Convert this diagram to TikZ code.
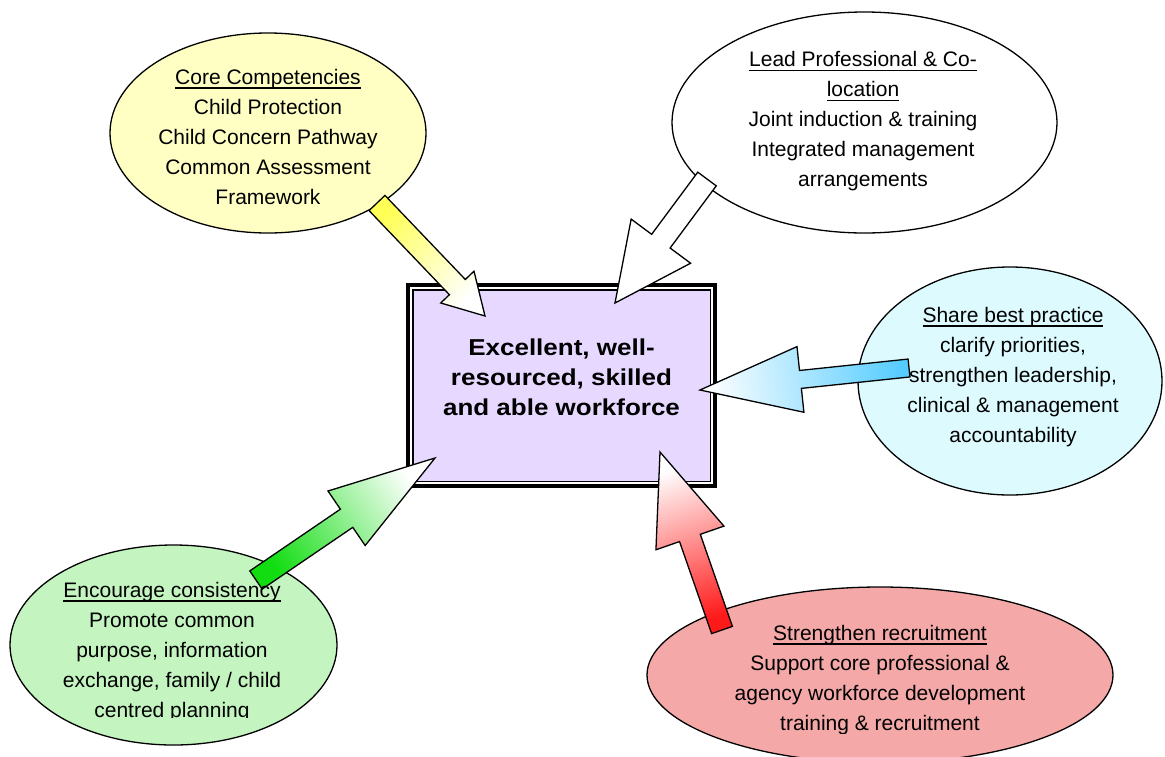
\documentclass[tikz,border=0pt]{standalone}
\usepackage{fontspec}
\setmainfont{Liberation Sans}
\newfontfamily\boxfont{Liberation Sans}[FakeStretch=1.13]
\usetikzlibrary{calc,shapes.geometric}

\definecolor{coreyellow}{HTML}{FFFFC4}
\definecolor{sharecyan}{HTML}{DDFBFF}
\definecolor{consgreen}{HTML}{C4F4C0}
\definecolor{recred}{HTML}{F4A8A8}
\definecolor{boxlilac}{HTML}{E6D8FF}
\definecolor{arryellow}{HTML}{FFFF55}
\definecolor{arrblue}{HTML}{55CCFF}
\definecolor{arrgreen}{HTML}{11DD11}
\definecolor{arrred}{HTML}{FF1A1A}

% underlined heading line with a firmer rule
\newcommand{\headline}[1]{\setbox0\hbox{#1}\rlap{\rule[-4.2pt]{\wd0}{1.4pt}}\box0}

% tail, tip, colour, shaft half width, head half width, head length
\newcommand{\blockarrow}[6]{%
  \pgfmathanglebetweenpoints{\pgfpointanchor{#1}{center}}{\pgfpointanchor{#2}{center}}%
  \let\arrbase\pgfmathresult
  \pgfmathsetmacro{\arrang}{\arrbase-90}%
  \coordinate (hb) at ($(#2)!#6!(#1)$);
  \shade[arrowline, bottom color=#3, top color=white, shading angle=\arrang]
    ($(#1)!#4!90:(#2)$) -- ($(hb)!#4!-90:(#1)$) -- ($(hb)!#5!-90:(#1)$) -- (#2)
    -- ($(hb)!#5!90:(#1)$) -- ($(hb)!#4!90:(#1)$) -- ($(#1)!#4!-90:(#2)$) -- cycle;
}

\begin{document}
\begin{tikzpicture}[x=1pt, y=-1pt,
    blob/.style={ellipse, draw=black, line width=1.3pt, inner sep=0pt},
    blobtext/.style={align=center, inner sep=0pt, font=\fontsize{21}{30}\selectfont},
    arrowline/.style={draw=black, line width=1.3pt, line join=miter}]
  \useasboundingbox (0,0) rectangle (1165,756);

  % ellipses
  \node[blob, fill=coreyellow, minimum width=316pt, minimum height=200pt] (core) at (268,133) {};
  \node[blob, fill=white, minimum width=385pt, minimum height=221pt] (lead) at (864.5,122.5) {};
  \node[blob, fill=sharecyan, minimum width=304pt, minimum height=228pt] (share) at (1010,381) {};
  \node[blob, fill=consgreen, minimum width=327pt, minimum height=200pt] (consist) at (173.5,645) {};
  \node[blob, fill=recred, minimum width=466pt, minimum height=176pt] (recruit) at (880,675) {};

  % centre box
  \node[draw=black, line width=7pt, fill=boxlilac, minimum width=304pt, minimum height=198pt] (box) at (561.5,385.5) {};
  \draw[white, line width=2.5pt] ([shift={(4.8,4.8)}]box.north west) rectangle ([shift={(-4.8,-4.8)}]box.south east);
  \draw[black, line width=0.8pt] ([shift={(7,7)}]box.north west) rectangle ([shift={(-7,-7)}]box.south east);

  % arrows
  \coordinate (coretail) at (377,203);
  \coordinate (coretip) at (485,316);
  \coordinate (leadtail) at (707,179);
  \coordinate (leadtip) at (615,303);
  \coordinate (sharetail) at (909,368);
  \coordinate (sharetip) at (700,390);
  \coordinate (consisttail) at (256,580);
  \coordinate (consisttip) at (435,458);
  \coordinate (recruittail) at (722,630);
  \coordinate (recruittip) at (660,452);

  \blockarrow{coretail}{coretip}{arryellow}{11pt}{23pt}{40pt}
  \blockarrow{leadtail}{leadtip}{white}{11.5pt}{37pt}{77pt}
  \blockarrow{sharetail}{sharetip}{arrblue}{9pt}{33pt}{101pt}
  \blockarrow{consisttail}{consisttip}{arrgreen}{11pt}{33pt}{107pt}
  \blockarrow{recruittail}{recruittip}{arrred}{11pt}{36pt}{91pt}

  % texts
  \node[font=\boxfont\bfseries\fontsize{23}{30}\selectfont, align=center] (boxtext) at ([shift={(0,-8)}]box.center) {Excellent, well-\\resourced, skilled\\and able workforce};
  \node[blobtext] (coretext) at ([shift={(0,4)}]core.center) {\headline{Core Competencies}\\Child Protection\\Child Concern Pathway\\Common Assessment\\Framework};
  \node[blobtext] (leadtext) at ([shift={(-1.5,-1)}]lead.center) {\headline{Lead Professional \& Co-}\\\headline{location}\\Joint induction \& training\\Integrated management\\arrangements};
  \node[blobtext] (sharetext) at ([shift={(3,-4)}]share.center) {\headline{Share best practice}\\clarify priorities,\\strengthen leadership,\\clinical \& management\\accountability};
  \begin{scope}
    \clip (0,0) rectangle (1165,717);
    \node[blobtext] (consisttext) at ([shift={(-1.5,7)}]consist.center) {\headline{Encourage consistency}\\Promote common\\purpose, information\\exchange, family / child\\centred planning};
  \end{scope}
  \begin{scope}
    \clip (0,0) rectangle (1165,733);
    \node[blobtext] (recruittext) at ([shift={(0,5)}]recruit.center) {\headline{Strengthen recruitment}\\Support core professional \&\\agency workforce development\\training \& recruitment};
  \end{scope}
\end{tikzpicture}
\end{document}
